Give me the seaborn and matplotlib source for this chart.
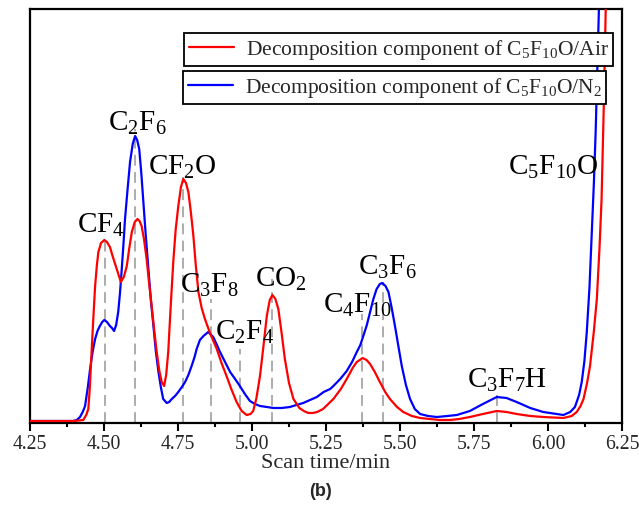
import numpy as np
import pandas as pd
import matplotlib
matplotlib.use("Agg")
import matplotlib.pyplot as plt
import seaborn as sns

# ---- data ----
air_x = [4.25, 4.40, 4.43, 4.440, 4.447, 4.452, 4.458, 4.464, 4.470, 4.476, 4.481, 4.490, 4.501, 4.510,
         4.520, 4.530, 4.543, 4.557, 4.567, 4.577, 4.585, 4.594, 4.604, 4.613, 4.620, 4.627, 4.635, 4.644,
         4.652, 4.661, 4.670, 4.678, 4.687, 4.695, 4.703, 4.710, 4.717, 4.725, 4.734, 4.742, 4.751, 4.760,
         4.768, 4.777, 4.785, 4.793, 4.802, 4.810, 4.819, 4.830, 4.841, 4.858, 4.881, 4.897, 4.914, 4.930,
         4.948, 4.965, 4.982, 4.995, 5.004, 5.015, 5.027, 5.038, 5.050, 5.060, 5.069, 5.079, 5.089, 5.100,
         5.111, 5.125, 5.140, 5.160, 5.175, 5.190, 5.205, 5.220, 5.240, 5.275, 5.300, 5.320, 5.340, 5.354,
         5.374, 5.387, 5.399, 5.415, 5.432, 5.450, 5.466, 5.490, 5.511, 5.540, 5.568, 5.600, 5.635, 5.669,
         5.700, 5.736, 5.780, 5.827, 5.860, 5.894, 5.940, 5.984, 6.052, 6.080, 6.097, 6.110, 6.120, 6.132,
         6.142, 6.155, 6.165, 6.174, 6.181, 6.189, 6.195, 6.200]
air_y = [2, 2, 3, 8, 14, 35, 71, 105, 137, 158, 171, 180, 183, 181,
         176, 166, 154, 141, 146, 157, 174, 191, 201, 204, 202, 197, 184, 164,
         141, 117, 92, 71, 52, 41, 37, 48, 71, 115, 161, 193, 217, 236,
         244, 240, 231, 212, 187, 158, 131, 115, 104, 90, 74, 60, 47, 34,
         21, 12, 8, 9, 12, 25, 47, 75, 107, 123, 128, 124, 114, 90,
         64, 40, 24, 15, 12, 10, 10, 11, 14, 24, 34, 44, 55, 61,
         65, 63, 59, 51, 41, 31, 24, 16, 11, 7, 5, 4, 3, 3,
         4, 6, 9, 12, 11, 9, 7, 6, 5, 7, 11, 17, 24, 40,
         57, 92, 124, 175, 224, 324, 414, 500]

n2_x = [4.25, 4.395, 4.408, 4.419, 4.428, 4.436, 4.445, 4.453, 4.462, 4.470, 4.478, 4.486, 4.494, 4.501,
        4.510, 4.520, 4.527, 4.534, 4.541, 4.548, 4.554, 4.560, 4.566, 4.571, 4.580, 4.588, 4.597, 4.605,
        4.612, 4.619, 4.626, 4.633, 4.641, 4.650, 4.658, 4.667, 4.675, 4.684, 4.692, 4.700, 4.712, 4.720,
        4.729, 4.740, 4.751, 4.763, 4.774, 4.785, 4.796, 4.806, 4.813, 4.824, 4.836, 4.852, 4.869, 4.880,
        4.892, 4.909, 4.926, 4.943, 4.959, 4.976, 4.993, 5.010, 5.027, 5.050, 5.072, 5.100, 5.128, 5.150,
        5.173, 5.196, 5.219, 5.242, 5.264, 5.275, 5.298, 5.320, 5.338, 5.354, 5.366, 5.376, 5.388, 5.399,
        5.410, 5.421, 5.432, 5.440, 5.451, 5.461, 5.472, 5.483, 5.495, 5.506, 5.520, 5.534, 5.550, 5.568,
        5.595, 5.624, 5.660, 5.692, 5.736, 5.780, 5.827, 5.860, 5.894, 5.940, 5.984, 6.052, 6.075, 6.091,
        6.105, 6.114, 6.123, 6.131, 6.140, 6.148, 6.155, 6.161, 6.172, 6.178]
n2_y = [2, 2, 3, 6, 11, 17, 35, 54, 72, 84, 92, 97, 101, 103,
        101, 97, 95, 92, 98, 111, 130, 154, 180, 204, 235, 261, 279, 287,
        283, 274, 250, 221, 188, 154, 124, 97, 72, 51, 36, 24, 20, 21,
        24, 27, 31, 36, 41, 48, 57, 66, 74, 83, 87, 91, 86, 79,
        71, 61, 51, 44, 37, 29, 22, 19, 17, 16, 15, 15, 16, 18,
        20, 23, 26, 31, 34, 37, 44, 52, 61, 71, 78, 87, 98, 111,
        124, 134, 139, 140, 137, 131, 115, 97, 76, 57, 38, 24, 14, 9,
        7, 6, 7, 8, 12, 19, 26, 25, 21, 15, 11, 8, 11, 16,
        28, 41, 62, 91, 135, 191, 240, 291, 414, 500]

peak_x = [4.503, 4.605, 4.767, 4.861, 4.961, 5.067, 5.371, 5.443, 5.829]
peak_top = [189, 294, 246, 124, 74, 144, 109, 141, 31]

labels = [r"CF$_4$", r"C$_2$F$_6$", r"CF$_2$O", r"C$_3$F$_8$", r"C$_2$F$_4$", r"CO$_2$",
          r"C$_4$F$_{10}$", r"C$_3$F$_6$", r"C$_3$F$_7$H", r"C$_5$F$_{10}$O"]
label_x = [4.408, 4.515, 4.650, 4.757, 4.875, 5.010, 5.241, 5.359, 5.725, 5.866]
label_y = [191, 293, 249, 131, 84, 137, 111, 149, 36, 249]

series_names = [r"Decomposition component of C$_5$F$_{10}$O/Air",
                r"Decomposition component of C$_5$F$_{10}$O/N$_2$"]
xticks = [4.25, 4.50, 4.75, 5.00, 5.25, 5.50, 5.75, 6.00, 6.25]

# ---- style ----
sns.set_style("ticks")
plt.rcParams["font.family"] = ["Liberation Serif", "DejaVu Serif"]
plt.rcParams["mathtext.default"] = "regular"

W, H = 639, 510
fig = plt.figure(figsize=(W / 100, H / 100), dpi=100)
ax = fig.add_axes([30 / W, 1 - 424 / H, 592 / W, 414 / H])

ax.vlines(peak_x, 0, peak_top, colors="#a6a6a6", linestyles=(0, (6, 3.5)), lw=1.3, zorder=1)

df_air = pd.DataFrame({"t": air_x, "v": air_y})
df_n2 = pd.DataFrame({"t": n2_x, "v": n2_y})
sns.lineplot(data=df_air, x="t", y="v", ax=ax, color="#ff0000", lw=1.6, estimator=None, sort=False, zorder=3)
sns.lineplot(data=df_n2, x="t", y="v", ax=ax, color="#0000ff", lw=1.6, estimator=None, sort=False, zorder=2)
l_air, l_n2 = ax.lines[-2], ax.lines[-1]

for t, x, y in zip(labels, label_x, label_y):
    ax.text(x, y, t, fontsize=21, ha="left", va="baseline", color="black", zorder=4)

ax.set_xlim(4.25, 6.25)
ax.set_ylim(0, 414)
ax.set_xticks(xticks)
ax.set_xticklabels([f"{v:.2f}" for v in xticks], fontsize=14.2)
ax.set_xticks(np.arange(4.375, 6.25, 0.25), minor=True)
ax.set_yticks([])
ax.set_xlabel("Scan time/min", fontsize=16, labelpad=0)
ax.set_ylabel("")
ax.tick_params(axis="x", which="major", direction="out", length=6, width=1.5, pad=2, color="black")
ax.tick_params(axis="x", which="minor", direction="out", length=3, width=1.5, color="black")
for s in ax.spines.values():
    s.set_visible(True)
    s.set_linewidth(1.6)
    s.set_color("black")

common = dict(loc="upper right", bbox_transform=fig.transFigure, fontsize=15.5, frameon=True,
              fancybox=False, edgecolor="black", framealpha=1, borderaxespad=0,
              handlelength=2.1, handletextpad=0.55, borderpad=0.2)
leg1 = ax.legend([l_air], [series_names[0]], bbox_to_anchor=(613 / W, 1 - 34 / H), **common)
leg1.get_frame().set_linewidth(1.3)
ax.add_artist(leg1)
leg2 = ax.legend([l_n2], [series_names[1]], bbox_to_anchor=(606 / W, 1 - 72 / H), **common)
leg2.get_frame().set_linewidth(1.3)

fig.text(320 / W, 1 - 492 / H, "(b)", ha="center", va="center", fontsize=13,
         fontweight="bold", family=["Liberation Sans", "DejaVu Sans"])

fig.savefig("out.png", dpi=100)
